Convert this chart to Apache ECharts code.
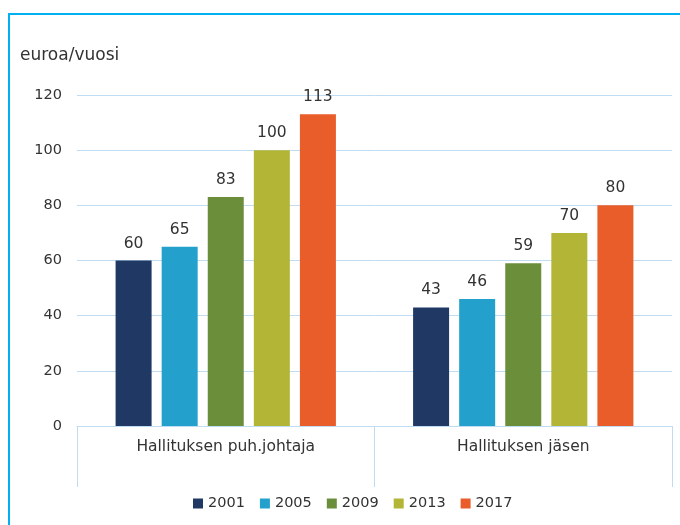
<!DOCTYPE html>
<html>
<head>
<meta charset="utf-8">
<script src="https://cdn.jsdelivr.net/npm/echarts@6/dist/echarts.min.js"></script>
<style>
	html, body { margin: 0; padding: 0; background: #fff; }
	#frame { position: absolute; left: 8px; top: 13px; width: 672px; height: 512px; border-top: 2px solid #00b0f0; border-left: 2px solid #00b0f0; }
	#chart { position: absolute; left: 0; top: 0; width: 680px; height: 525px; }
</style>
</head>
<body>
<div id="frame"></div>
<div id="chart"></div>
<script>
const categories = ['Hallituksen puh.johtaja', 'Hallituksen jäsen']
const years = ['2001', '2005', '2009', '2013', '2017']
const values2001 = [60, 43]
const values2005 = [65, 46]
const values2009 = [83, 59]
const values2013 = [100, 70]
const values2017 = [113, 80]
const yTicks = [0, 20, 40, 60, 80, 100, 120]

const colors = ['#1f3864', '#23a0cb', '#6b8e3a', '#b2b535', '#e85d2a']
const font = 'DejaVu Sans, Verdana, sans-serif'
const lineColor = '#c0dcf2'

const myChart = echarts.init(document.getElementById('chart'), null, { renderer: 'canvas' })

const allValues = [values2001, values2005, values2009, values2013, values2017]
const series = years.map((y, i) => ({
	name: y,
	type: 'bar',
	data: allValues[i],
	barWidth: 36,
	barGap: '28%',
	itemStyle: { color: colors[i] },
	label: {
		show: true,
		position: 'top',
		distance: 9,
		color: '#333',
		fontFamily: font,
		fontSize: 15.5
	}
}))

myChart.setOption({
	animation: false,
	textStyle: { fontFamily: font },
	title: {
		text: 'euroa/vuosi',
		left: 20,
		top: 47,
		padding: 0,
		textStyle: { fontFamily: font, fontSize: 17, fontWeight: 'normal', color: '#333' }
	},
	legend: {
		data: years,
		bottom: 14,
		left: 193,
		padding: 0,
		itemWidth: 10,
		itemHeight: 10,
		itemGap: 15,
		icon: 'rect',
		textStyle: { fontFamily: font, fontSize: 14.5, color: '#333' }
	},
	grid: { left: 77, right: 8, top: 95, bottom: 99 },
	xAxis: {
		type: 'category',
		data: categories,
		axisLine: { lineStyle: { color: lineColor, width: 1 } },
		axisTick: { show: true, length: 61, lineStyle: { color: lineColor } },
		axisLabel: { fontFamily: font, fontSize: 15.5, color: '#333', margin: 13 }
	},
	yAxis: {
		type: 'value',
		min: yTicks[0],
		max: yTicks[yTicks.length - 1],
		interval: 20,
		axisLine: { show: false },
		axisTick: { show: false },
		axisLabel: { fontFamily: font, fontSize: 14.5, color: '#333', margin: 15 },
		splitLine: { lineStyle: { color: lineColor } }
	},
	series: series
})
</script>
</body>
</html>
